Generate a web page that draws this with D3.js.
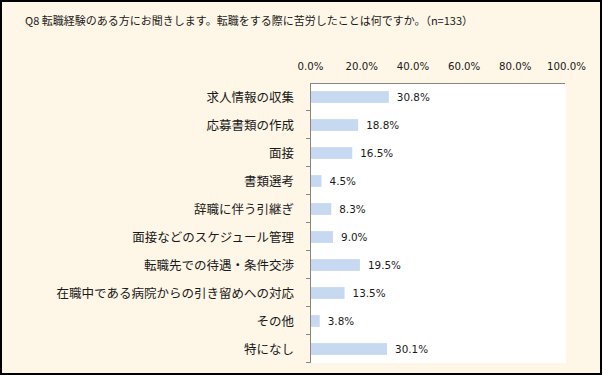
<!DOCTYPE html>
<html>
<head>
<meta charset="utf-8">
<script src="https://cdn.jsdelivr.net/npm/d3@7"></script>
<style>
  html, body { margin: 0; padding: 0; background: #fff; }
  svg text { font-family: "DejaVu Sans", "Noto Sans CJK JP", sans-serif; fill: #1a1a1a; }
  .catLabel { font-family: "Noto Sans CJK JP", sans-serif; font-size: 12.5px; }
  .title { font-family: "Noto Sans CJK JP", sans-serif; font-size: 11px; }
</style>
</head>
<body>
<div id="chart"></div>
<script>
var title = "Q8 転職経験のある方にお聞きします。転職をする際に苦労したことは何ですか。（n=133）";
var categories = [
  "求人情報の収集",
  "応募書類の作成",
  "面接",
  "書類選考",
  "辞職に伴う引継ぎ",
  "面接などのスケジュール管理",
  "転職先での待遇・条件交渉",
  "在職中である病院からの引き留めへの対応",
  "その他",
  "特になし"
];
var values = [30.8, 18.8, 16.5, 4.5, 8.3, 9.0, 19.5, 13.5, 3.8, 30.1];
var tickValues = [0, 20, 40, 60, 80, 100];

var width = 603, height = 377;
var plotLeft = 310, plotRight = 566, plotTop = 83, plotBottom = 363;

var svg = d3.select("#chart").append("svg")
  .attr("width", width)
  .attr("height", height);

// background + frame
svg.append("rect")
  .attr("x", 1).attr("y", 1)
  .attr("width", 600).attr("height", 373)
  .attr("fill", "#fef6e6")
  .attr("stroke", "#000")
  .attr("stroke-width", 2);

svg.append("text")
  .attr("class", "title")
  .attr("x", 25)
  .attr("y", 25)
  .text(title);

// plot area
svg.append("rect")
  .attr("x", plotLeft).attr("y", plotTop)
  .attr("width", plotRight - plotLeft).attr("height", plotBottom - plotTop)
  .attr("fill", "#fff");

var x = d3.scaleLinear().domain([0, 100]).range([plotLeft, plotRight]);
var y = d3.scaleBand().domain(categories).range([plotTop, plotBottom]).paddingInner(0.58).paddingOuter(0.29);

// bars
svg.selectAll(".bar").data(values)
  .enter().append("rect")
  .attr("class", "bar")
  .attr("x", x(0))
  .attr("y", (d, i) => y(categories[i]))
  .attr("width", d => x(d) - x(0))
  .attr("height", y.bandwidth())
  .attr("fill", "#c6d9f1");

// value labels
svg.selectAll(".valLabel").data(values)
  .enter().append("text")
  .attr("class", "valLabel")
  .attr("x", d => x(d) + 8)
  .attr("y", (d, i) => y(categories[i]) + y.bandwidth() / 2)
  .attr("dy", "0.36em")
  .attr("font-size", "10.4px")
  .text(d => d.toFixed(1) + "%");

// top value axis
var topAxis = svg.append("g")
  .attr("transform", `translate(0, ${plotTop})`)
  .call(d3.axisTop(x).tickValues(tickValues).tickSize(0).tickPadding(13)
    .tickFormat(d => d.toFixed(1) + "%"));
topAxis.select(".domain").attr("stroke", "#868686").attr("d", `M${plotLeft},0.5H${plotRight - 1}`);
topAxis.selectAll("text").attr("font-size", "10.2px").attr("font-family", null);

// left category axis: line and ticks at band edges
var edges = d3.range(categories.length + 1).map(i => plotTop + i * (plotBottom - plotTop) / categories.length);
var leftAxis = svg.append("g");
leftAxis.append("line")
  .attr("x1", plotLeft + 0.5).attr("x2", plotLeft + 0.5)
  .attr("y1", plotTop).attr("y2", plotBottom)
  .attr("stroke", "#868686");
leftAxis.selectAll(".tick").data(edges.slice(1))
  .enter().append("line")
  .attr("x1", plotLeft - 4).attr("x2", plotLeft)
  .attr("y1", d => Math.round(d) - 0.5).attr("y2", d => Math.round(d) - 0.5)
  .attr("stroke", "#868686");

// category labels
svg.selectAll(".catLabel").data(categories)
  .enter().append("text")
  .attr("class", "catLabel")
  .attr("x", 294)
  .attr("y", d => y(d) + y.bandwidth() / 2)
  .attr("dy", "0.36em")
  .attr("text-anchor", "end")
  .text(d => d);
</script>
</body>
</html>
